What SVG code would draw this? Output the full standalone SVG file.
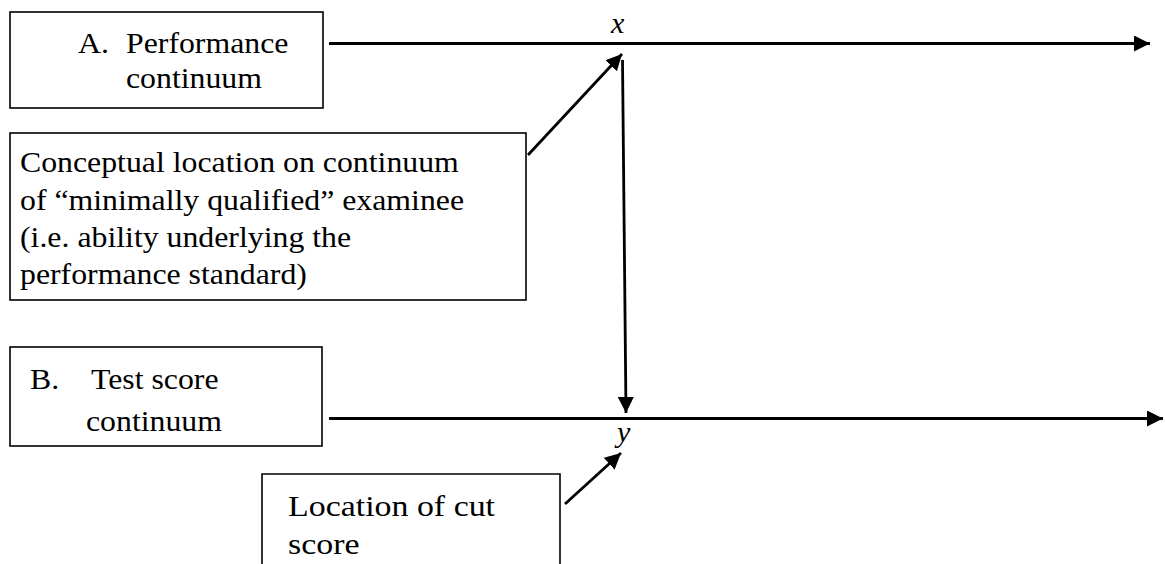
<svg xmlns="http://www.w3.org/2000/svg" width="1165" height="564" viewBox="0 0 1165 564">
  <style>
    .box { fill: #ffffff; stroke: #000000; stroke-width: 1.6; }
    .lbl { font-family: "Liberation Serif", "Times New Roman", serif; font-size: 30px; fill: #000000; }
    .var { font-family: "Liberation Serif", "Times New Roman", serif; font-size: 30px; font-style: italic; fill: #000000; }
    .wire { stroke: #000000; stroke-width: 2.8; fill: none; }
  </style>
  <defs>
    <marker id="head" viewBox="0 0 10 10" refX="10" refY="5" markerWidth="16" markerHeight="16" orient="auto" markerUnits="userSpaceOnUse">
      <path d="M0,0 L10,5 L0,10 Z" fill="#000000"/>
    </marker>
  </defs>

  <rect width="1165" height="564" fill="#ffffff"/>

  <!-- A: performance continuum -->
  <g id="node-performance">
    <rect class="box" x="10" y="12" width="313" height="96"/>
    <text class="lbl" transform="translate(78,53) scale(1.06,1)">A.</text>
    <text class="lbl" transform="translate(126,53) scale(1.06,1)">Performance</text>
    <text class="lbl" transform="translate(126,88) scale(1.06,1)">continuum</text>
  </g>

  <!-- conceptual location note -->
  <g id="node-conceptual">
    <rect class="box" x="10" y="133" width="516" height="167"/>
    <text class="lbl" transform="translate(20,172) scale(1.06,1)">Conceptual location on continuum</text>
    <text class="lbl" transform="translate(20,210) scale(1.06,1)">of “minimally qualified” examinee</text>
    <text class="lbl" transform="translate(20,247) scale(1.06,1)">(i.e. ability underlying the</text>
    <text class="lbl" transform="translate(20,284) scale(1.06,1)">performance standard)</text>
  </g>

  <!-- B: test score continuum -->
  <g id="node-testscore">
    <rect class="box" x="10" y="347" width="312" height="99"/>
    <text class="lbl" transform="translate(30,389) scale(1.06,1)">B.</text>
    <text class="lbl" transform="translate(91,389) scale(1.06,1)">Test score</text>
    <text class="lbl" transform="translate(86,431) scale(1.06,1)">continuum</text>
  </g>

  <!-- cut score note (runs off the bottom edge) -->
  <g id="node-cutscore">
    <path class="box" d="M262,570 L262,474 L560,474 L560,570"/>
    <text class="lbl" transform="translate(288,516) scale(1.13,1)">Location of cut</text>
    <text class="lbl" transform="translate(288,554) scale(1.13,1)">score</text>
  </g>

  <!-- point labels -->
  <g id="node-x">
    <text class="var" x="611" y="33">x</text>
  </g>
  <g id="node-y">
    <text class="var" x="617" y="442">y</text>
  </g>

  <!-- connectors -->
  <g id="connectors">
    <line class="wire" x1="329" y1="43.5" x2="1150" y2="43.5" marker-end="url(#head)"/>
    <line class="wire" x1="329" y1="418.5" x2="1163" y2="418.5" marker-end="url(#head)"/>
    <line class="wire" x1="528" y1="155" x2="622" y2="54" marker-end="url(#head)"/>
    <line class="wire" x1="622.5" y1="60" x2="626" y2="413" marker-end="url(#head)"/>
    <line class="wire" x1="565" y1="504" x2="621" y2="453" marker-end="url(#head)"/>
  </g>
</svg>
